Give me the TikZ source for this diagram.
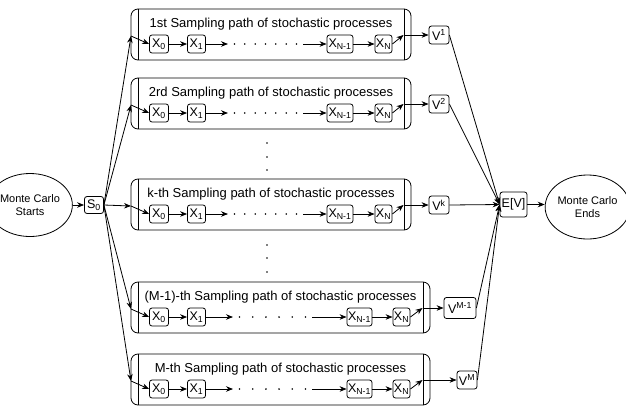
\documentclass[tikz,border=0pt]{standalone}
\usepackage{fontspec}
\setmainfont{Liberation Sans}
\usetikzlibrary{arrows.meta,shapes.geometric}
\begin{document}
\begin{tikzpicture}[x=1pt,y=-1pt,line width=0.8pt,
  arr/.style={-{Stealth[length=7pt,width=5.5pt]}},
  nbox/.style={draw,rounded corners=2.5pt,inner sep=0.5pt,minimum height=18pt,font=\fontsize{12.5}{14}\selectfont},
  pbox/.style={draw,rounded corners=7pt,minimum height=51pt,inner sep=0pt},
  ell/.style={draw,ellipse,align=center,inner sep=0pt,font=\fontsize{11}{13}\selectfont},
  ttl/.style={inner sep=0pt,font=\fontsize{13}{15}\selectfont}]
\useasboundingbox (0,0) rectangle (626,408);
\node[ell,minimum width=66pt,minimum height=63pt] (mcs) at (30,205) {Monte Carlo\\Starts};
\node[nbox,minimum width=19pt,minimum height=17pt] (s0) at (94,205) {S\textsubscript{0}};
\node[nbox,minimum width=27pt,minimum height=25pt] (ev) at (513.5,204.5) {E[V]};
\node[ell,minimum width=75pt,minimum height=64pt] (mce) at (587.5,207) {Monte Carlo\\Ends};
\draw[arr] (mcs) -- (s0);
\draw[arr] (ev.east) -- (ev.east -| mce.west);
\foreach \rn/\tp/\rr/\ttl/\xa/\wa/\xb/\da/\db/\nd/\vx/\vl/\vw/\vh in {
 1/9/411/{1st Sampling path of stochastic processes}/340/26/383.5/228/303/7/439/{V\textsuperscript{1}}/20/18,
 2/78/411/{2rd Sampling path of stochastic processes}/340/26/383.5/228/303/7/439/{V\textsuperscript{2}}/20/18,
 k/179/411/{k-th Sampling path of stochastic processes}/340/26/383.5/228/303/7/439/{V\textsuperscript{k}}/20/18,
 m1/282/430/{(M-1)-th Sampling path of stochastic processes}/359.5/25/401.5/233/312/6/460/{V\textsuperscript{M-1}}/32/21,
 m/354/430/{M-th Sampling path of stochastic processes}/359.5/25/401.5/233/312/6/467/{V\textsuperscript{M}}/20/18}{
  \node[pbox,minimum width={\rr-131}] (r\rn) at ({(131+\rr)/2},\tp+25.5) {};
  \draw ([xshift=7.5pt]r\rn.north west) -- ([xshift=7.5pt]r\rn.south west);
  \draw ([xshift=-7.5pt]r\rn.north east) -- ([xshift=-7.5pt]r\rn.south east);
  \node[ttl] (r\rn-t) at ({(131+\rr)/2},\tp+15) {\ttl};
  \node[nbox,minimum width=19pt] (r\rn-x0) at (159,\tp+35) {X\textsubscript{0}};
  \node[nbox,minimum width=18pt] (r\rn-x1) at (196.5,\tp+35) {X\textsubscript{1}};
  \node[nbox,minimum width=\wa pt] (r\rn-xn1) at (\xa,\tp+35) {X\textsubscript{N-1}};
  \node[nbox,minimum width=17pt] (r\rn-xn) at (\xb,\tp+35) {X\textsubscript{N}};
  \node[nbox,minimum width=\vw pt,minimum height=\vh pt] (r\rn-v) at (\vx,\tp+26) {\vl};
  \coordinate (r\rn-in) at (131,\tp+27);
  \coordinate (r\rn-out) at (\rr-7.5,\tp+26);
  \coordinate (r\rn-da) at (\da,\tp+35);
  \coordinate (r\rn-db) at (\db,\tp+35);
  \draw[arr] (s0.east) -- (r\rn-in);
  \draw[arr] (r\rn-in) -- (r\rn-x0.west);
  \draw[arr] (r\rn-x0) -- (r\rn-x1);
  \draw[arr] (r\rn-x1) -- (r\rn-da);
  \foreach \i in {1,...,\nd}{
    \fill ({\da+6.5+(\i-1)*(\db-\da-13)/(\nd-1)},\tp+35) circle (0.9pt);
  }
  \draw[arr] (r\rn-db) -- (r\rn-xn1);
  \draw[arr] (r\rn-xn1) -- (r\rn-xn);
  \draw[arr] (r\rn-xn.east) -- (r\rn-out);
  \draw[arr] (r\rn-out) -- (r\rn-v);
  \draw[arr] (r\rn-v.east) -- (ev.west);
}
\foreach \yy in {143,157,170,245,258,272}{\fill (267,\yy) circle (0.9pt);}
\end{tikzpicture}
\end{document}
